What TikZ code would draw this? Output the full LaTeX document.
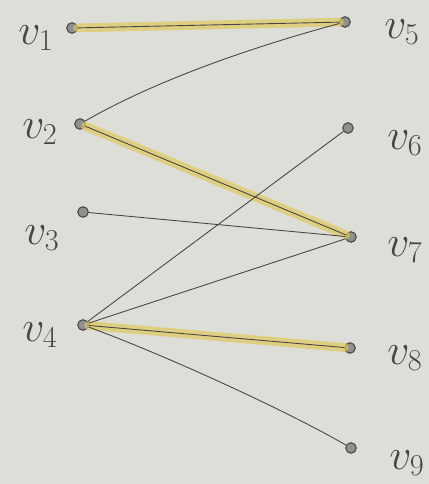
\documentclass[tikz,border=0pt]{standalone}
\usetikzlibrary{positioning}
\definecolor{paper}{RGB}{222,222,217}
\definecolor{pencil}{RGB}{70,70,70}
\definecolor{marker}{RGB}{222,200,90}
\begin{document}
\begin{tikzpicture}[x=0.02cm, y=0.02cm]
\tikzstyle{every node}+=[inner sep=0pt]
\tikzstyle{vtx}=[circle, draw=pencil, fill=pencil!60, line width=0.6pt, minimum size=6pt]
\tikzstyle{lbl}=[text=pencil, font=\fontsize{25}{30}\selectfont]
\tikzstyle{edge}=[pencil, line width=0.5pt]
\tikzstyle{hilite}=[marker, line width=5pt, line cap=round, opacity=0.7]
\fill [paper] (0,0) rectangle (429,-484);
\useasboundingbox (0,0) rectangle (429,-484);
\node [vtx] (v1) at (72,-28) {};
\node [vtx] (v2) at (80,-124) {};
\node [vtx] (v3) at (83,-212) {};
\node [vtx] (v4) at (83,-325) {};
\node [vtx] (v5) at (345,-22) {};
\node [vtx] (v6) at (348,-128) {};
\node [vtx] (v7) at (351,-237) {};
\node [vtx] (v8) at (350,-348) {};
\node [vtx] (v9) at (351,-448) {};
\node [lbl] (l1) at (36,-38) {$v_1$};
\node [lbl] (l2) at (40,-132) {$v_2$};
\node [lbl] (l3) at (42,-238) {$v_3$};
\node [lbl] (l4) at (40,-335) {$v_4$};
\node [lbl] (l5) at (402,-32) {$v_5$};
\node [lbl] (l6) at (405,-143) {$v_6$};
\node [lbl] (l7) at (405,-250) {$v_7$};
\node [lbl] (l8) at (405,-358) {$v_8$};
\node [lbl] (l9) at (407,-463) {$v_9$};
% matching edges
\draw [hilite] (v1) -- (v5);
\draw [hilite] (v2) -- (v7);
\draw [hilite] (v4) -- (v8);
% all edges
\draw [edge] (v1) -- (v5);
\draw [edge] (v2) .. controls +(30:90) and +(195:90) .. (v5);
\draw [edge] (v2) -- (v7);
\draw [edge] (v3) -- (v7);
\draw [edge] (v4) -- (v6);
\draw [edge] (v4) -- (v7);
\draw [edge] (v4) -- (v8);
\draw [edge] (v4) .. controls +(-20:80) and +(150:80) .. (v9);
\end{tikzpicture}
\end{document}
